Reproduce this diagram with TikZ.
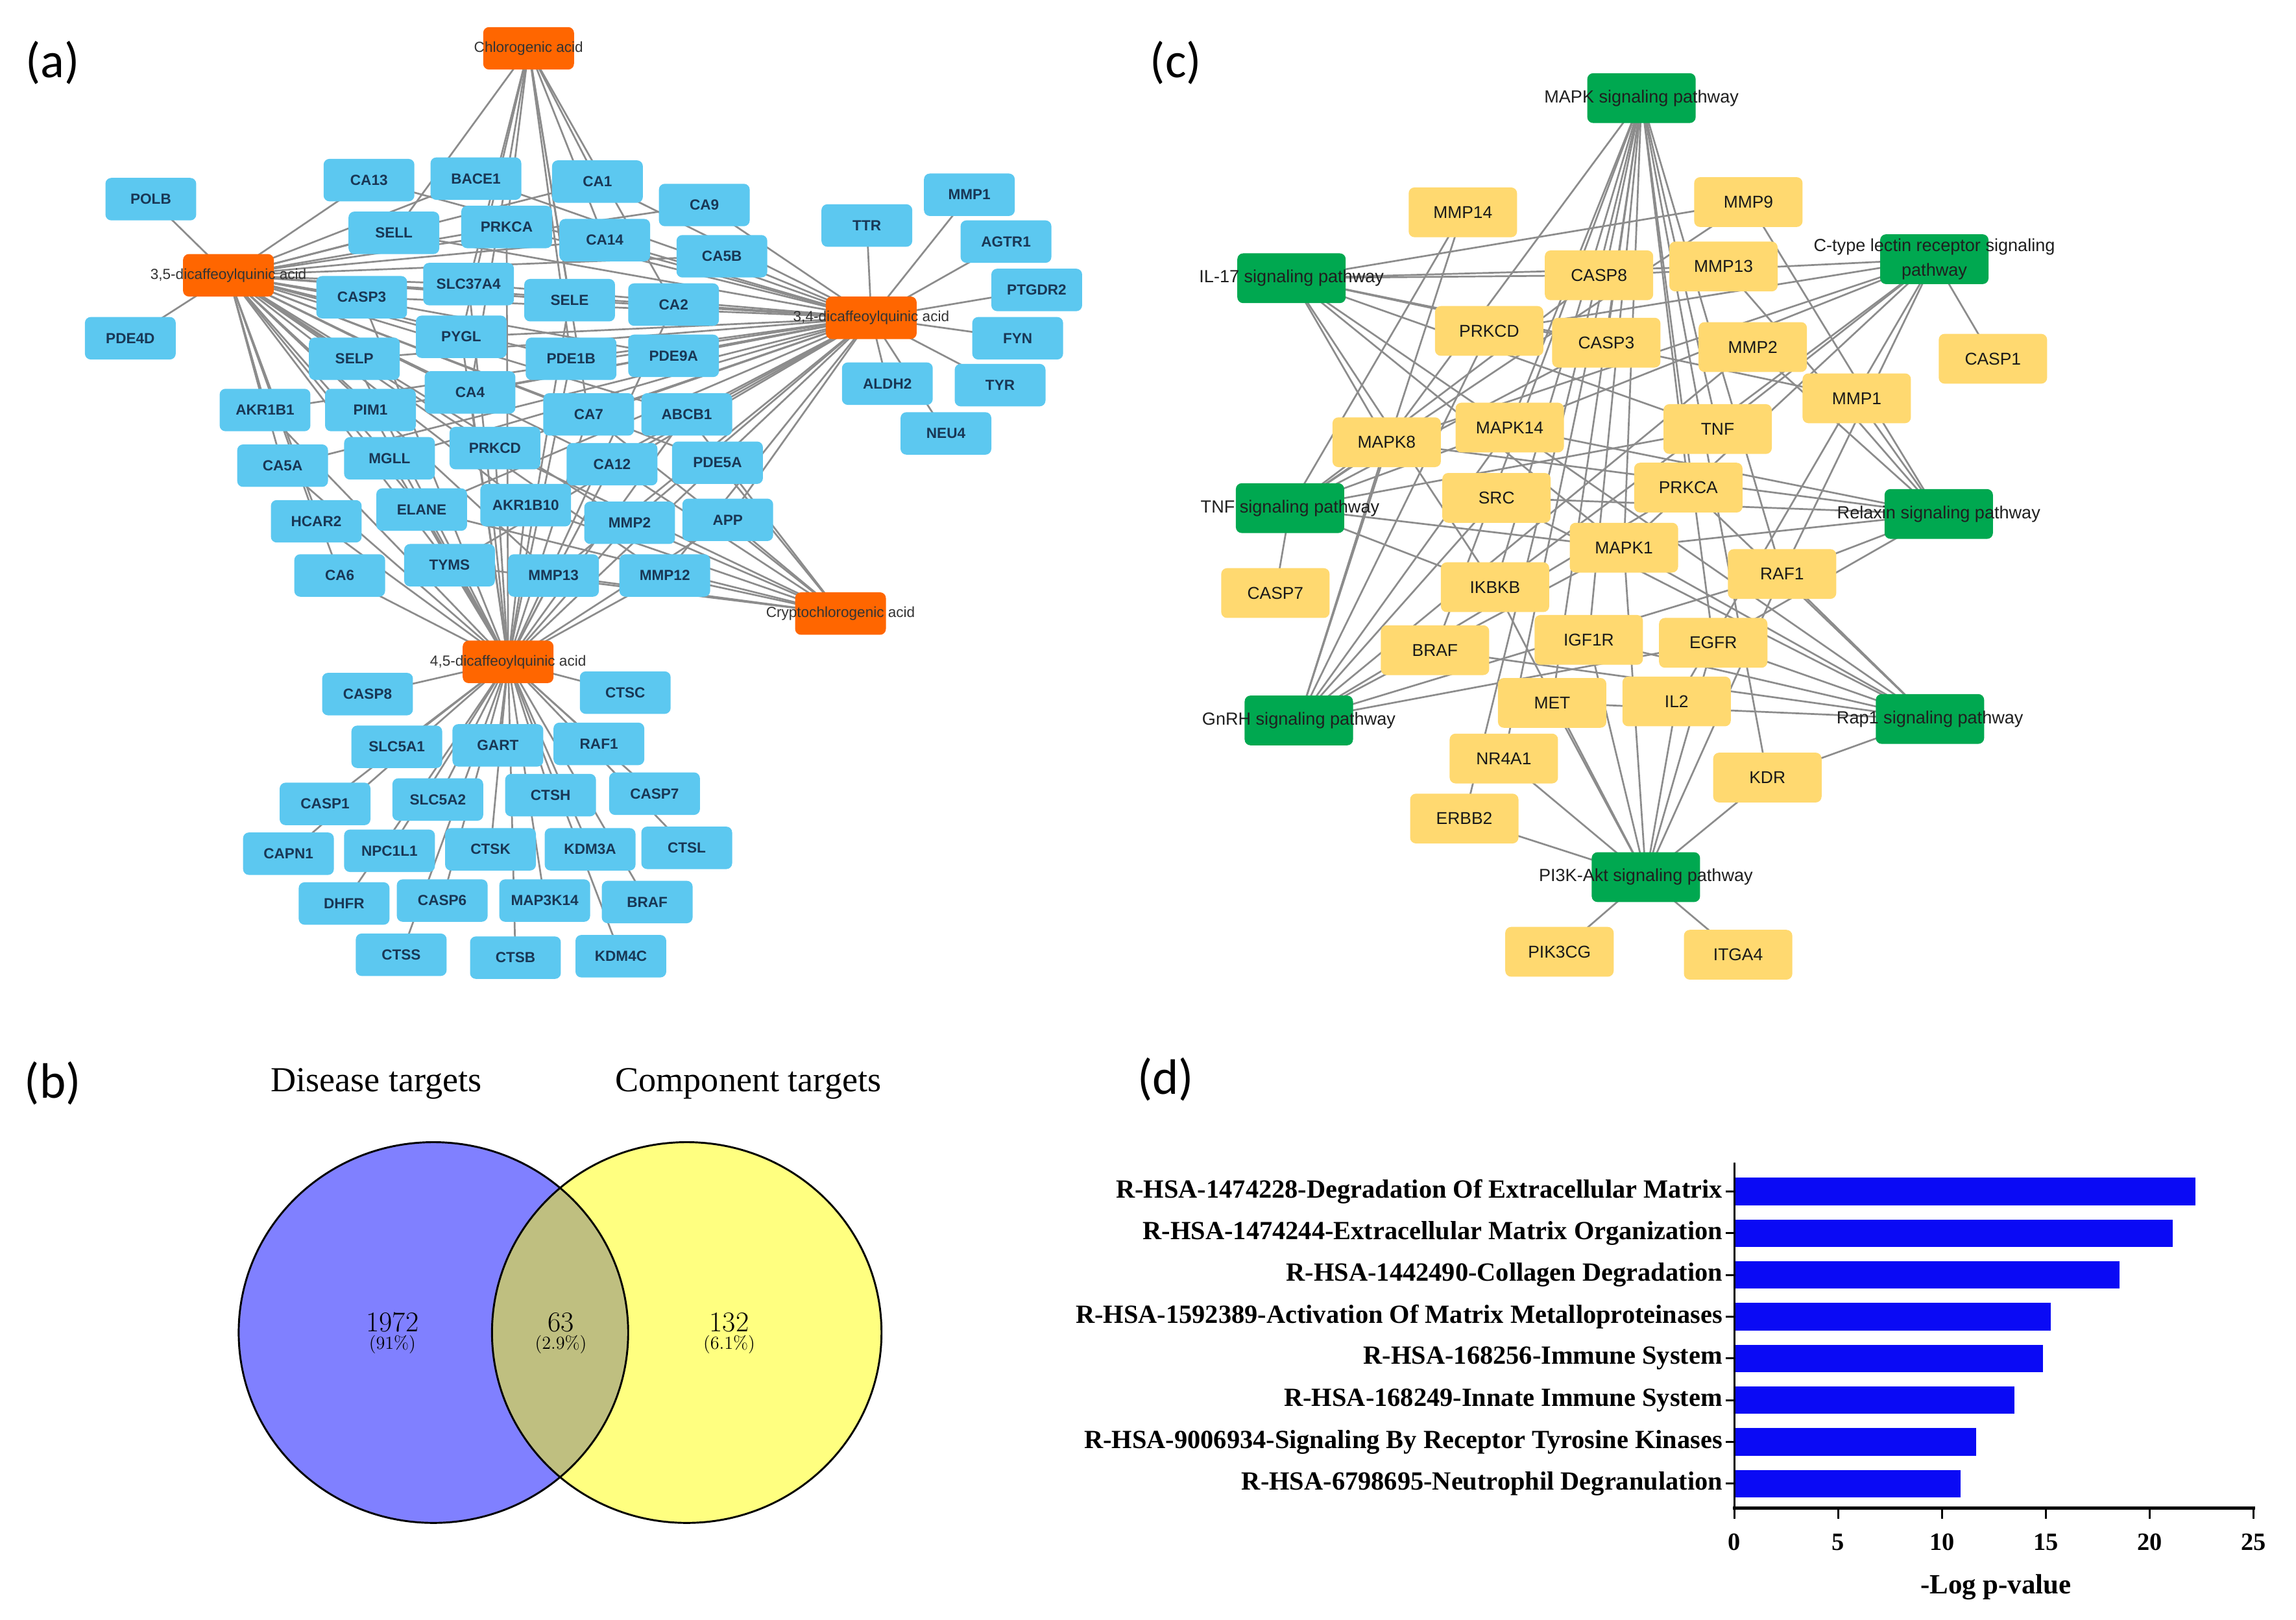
\documentclass[tikz,border=0pt]{standalone}
\usepackage{fontspec}
\newfontfamily\netfont{Liberation Sans}
\newfontfamily\serifT{Liberation Serif}
\newfontfamily\panelfont{Carlito}
\definecolor{nodeblue}{RGB}{92,200,240}
\definecolor{bluetext}{RGB}{25,55,85}
\definecolor{hubor}{RGB}{255,102,0}
\definecolor{nodeyel}{RGB}{255,217,112}
\definecolor{hubgreen}{RGB}{0,168,80}
\definecolor{edgegray}{RGB}{140,140,140}
\definecolor{venblue}{RGB}{128,128,255}
\definecolor{venyel}{RGB}{255,255,128}
\definecolor{venmix}{RGB}{191,191,128}
\definecolor{barblue}{RGB}{10,10,245}
\pgfdeclarelayer{edgelayer}
\pgfsetlayers{edgelayer,main}
\begin{document}
\begin{tikzpicture}[x=1pt,y=-1pt,
  bnode/.style={rectangle, rounded corners=4pt, fill=nodeblue, minimum width=62pt, minimum height=29pt, inner sep=1pt, font=\netfont\bfseries\fontsize{10}{12}\selectfont, text=bluetext},
  ohub/.style={rectangle, rounded corners=4pt, fill=hubor, minimum width=62pt, minimum height=29pt, inner sep=0pt},
  hubtext/.style={font=\netfont\fontsize{10}{12}\selectfont, text=black!80, inner sep=0pt},
  ynode/.style={rectangle, rounded corners=4pt, fill=nodeyel, minimum width=74pt, minimum height=34pt, inner sep=1pt, font=\netfont\fontsize{11.7}{14}\selectfont, text=black!90},
  ghub/.style={rectangle, rounded corners=4pt, fill=hubgreen, minimum width=74pt, minimum height=34pt, inner sep=0pt},
  gtext/.style={font=\netfont\fontsize{12}{17}\selectfont, text=black!88, align=center, inner sep=0pt},
  netline/.style={draw=edgegray, line width=1.2pt},
  paneltag/.style={font=\panelfont\fontsize{34}{40}\selectfont, inner sep=0pt},
  barlab/.style={font=\serifT\bfseries\fontsize{17.9}{20}\selectfont, anchor=east, inner sep=0pt},
  ticklab/.style={font=\serifT\bfseries\fontsize{17}{20}\selectfont, inner sep=0pt}
]
\begin{pgfonlayer}{edgelayer}
\fill[white] (0,0) rectangle (1568,1106);
\end{pgfonlayer}
\useasboundingbox (0,0) rectangle (1568,1106);

% ---------------- panel labels
\node[paneltag] (tagA) at (36,43) {(a)};
\node[paneltag] (tagC) at (803,43) {(c)};
\node[paneltag] (tagB) at (36,740) {(b)};
\node[paneltag] (tagD) at (796,737) {(d)};

% ---------------- (a) network
\foreach \n/\x/\y in {POLB/103/136, PDE4D/89/231, CA13/252/123, BACE1/325/122, CA1/408/124, CA9/481/140,
  SELL/269/159, PRKCA/346/155, CA14/413/164, CA5B/493/175, TTR/592/154, MMP1/662/133, AGTR1/687/165,
  PTGDR2/708/198, FYN/695/231, CASP3/247/203, SLC37A4/320/194, SELE/389/205, CA2/460/208,
  SELP/242/245, PYGL/315/230, PDE1B/390/245, PDE9A/460/243, ALDH2/606/262, TYR/683/263, NEU4/646/296,
  AKR1B1/181/280, PIM1/253/280, CA4/321/268, CA7/402/283, ABCB1/469/283, PRKCD/338/306,
  CA5A/193/318, MGLL/266/313, CA12/418/317, PDE5A/490/316, HCAR2/216/356, ELANE/288/348,
  AKR1B10/359/345, MMP2/430/357, APP/497/355, CA6/232/393, TYMS/307/386, MMP13/378/393, MMP12/454/393,
  CASP8/251/474, CTSC/427/473, SLC5A1/271/510, GART/340/509, RAF1/409/508, CASP1/222/549,
  SLC5A2/299/546, CTSH/376/543, CASP7/447/542, CAPN1/197/583, NPC1L1/266/581, CTSK/335/580,
  KDM3A/403/580, CTSL/469/579, DHFR/235/617, CASP6/302/615, MAP3K14/372/615, BRAF/442/616,
  CTSS/274/652, CTSB/352/654, KDM4C/424/653}
  {\node[bnode] (a-\n) at (\x,\y) {\n};}

\node[ohub, label={[hubtext]center:Chlorogenic acid}] (achl) at (361,33) {};
\node[ohub, label={[hubtext]center:3,5-dicaffeoylquinic acid}] (a35) at (156,188) {};
\node[ohub, label={[hubtext]center:3,4-dicaffeoylquinic acid}] (a34) at (595,217) {};
\node[ohub, label={[hubtext]center:Cryptochlorogenic acid}] (acry) at (574,419) {};
\node[ohub, label={[hubtext]center:4,5-dicaffeoylquinic acid}] (a45) at (347,452) {};

\begin{pgfonlayer}{edgelayer}
\foreach \t in {SELL,PRKCA,CA1,CA14,SELE,PYGL,CA4,PDE1B,CA7,CA2,SLC37A4}
  \draw[netline] (achl.center) -- (a-\t.center);
\foreach \t in {POLB,PDE4D,CA13,BACE1,SELL,PRKCA,CA1,CA9,CA14,CA5B,CASP3,SLC37A4,SELE,CA2,SELP,PYGL,PDE1B,PDE9A,AKR1B1,PIM1,CA4,CA7,ABCB1,CA5A,MGLL,PRKCD,CA12,PDE5A,HCAR2,ELANE,AKR1B10,MMP2,CA6,TYMS,MMP13,MMP12}
  \draw[netline] (a35.center) -- (a-\t.center);
\foreach \t in {TTR,MMP1,AGTR1,PTGDR2,FYN,ALDH2,TYR,NEU4,CA13,BACE1,CA1,CA9,SELL,PRKCA,CA14,CA5B,CASP3,SLC37A4,SELE,CA2,SELP,PYGL,PDE1B,PDE9A,AKR1B1,PIM1,CA4,CA7,ABCB1,CA5A,MGLL,PRKCD,CA12,PDE5A,ELANE,AKR1B10,MMP2,APP,TYMS,MMP13,MMP12}
  \draw[netline] (a34.center) -- (a-\t.center);
\foreach \t in {CASP8,CTSC,SLC5A1,GART,RAF1,CASP1,SLC5A2,CTSH,CASP7,CAPN1,NPC1L1,CTSK,KDM3A,CTSL,DHFR,CASP6,MAP3K14,BRAF,CTSS,CTSB,KDM4C,SELP,PYGL,PDE1B,AKR1B1,PIM1,CA4,CA7,ABCB1,MGLL,PRKCD,CA12,PDE5A,HCAR2,ELANE,AKR1B10,MMP2,APP,TYMS,MMP13,MMP12,CA6,CASP3,SLC37A4,SELE,PRKCA,CA2,CA5A}
  \draw[netline] (a45.center) -- (a-\t.center);
\foreach \t in {APP,MMP12,MMP2,MMP13,AKR1B10,CA12,PDE5A,ABCB1,PRKCD,ELANE,TYMS,CA7}
  \draw[netline] (acry.center) -- (a-\t.center);
\end{pgfonlayer}

% ---------------- (c) network
\foreach \n/\x/\y in {MMP14/999/145, MMP9/1194/138, CASP8/1092/188, MMP13/1177/182, PRKCD/1017/226,
  CASP3/1097/234, MMP2/1197/237, CASP1/1361/245, MMP1/1268/272, MAPK8/947/302, MAPK14/1031/292,
  TNF/1173/293, SRC/1022/340, PRKCA/1153/333, MAPK1/1109/374, CASP7/871/405, IKBKB/1021/401,
  RAF1/1217/392, BRAF/980/444, IGF1R/1085/437, EGFR/1170/439, MET/1060/480, IL2/1145/479,
  NR4A1/1027/518, KDR/1207/531, ERBB2/1000/559, PIK3CG/1065/650, ITGA4/1187/652}
  {\node[ynode] (c-\n) at (\x,\y) {\n};}

\node[ghub, label={[gtext]center:MAPK signaling pathway}] (cmapk) at (1121,67) {};
\node[ghub, label={[gtext]center:IL-17 signaling pathway}] (cil) at (882,190) {};
\node[ghub, label={[gtext]center:{C-type lectin receptor signaling\\pathway}}] (cct) at (1321,177) {};
\node[ghub, label={[gtext]center:TNF signaling pathway}] (ctnf) at (881,347) {};
\node[ghub, label={[gtext]center:Relaxin signaling pathway}] (crel) at (1324,351) {};
\node[ghub, label={[gtext]center:GnRH signaling pathway}] (cgn) at (887,492) {};
\node[ghub, label={[gtext]center:Rap1 signaling pathway}] (crap) at (1318,491) {};
\node[ghub, label={[gtext]center:PI3K-Akt signaling pathway}] (cpi) at (1124,599) {};

\begin{pgfonlayer}{edgelayer}
\foreach \t in {CASP3,MAPK1,MAPK8,MAPK14,TNF,RAF1,BRAF,EGFR,IGF1R,MET,ERBB2,PRKCA,KDR,IKBKB,NR4A1}
  \draw[netline] (cmapk.center) -- (c-\t.center);
\foreach \t in {MMP9,MMP13,MMP1,CASP8,CASP3,MAPK1,MAPK8,MAPK14,TNF,IKBKB}
  \draw[netline] (cil.center) -- (c-\t.center);
\foreach \t in {CASP8,CASP1,MAPK1,MAPK8,MAPK14,RAF1,PRKCD,IKBKB,IL2,TNF}
  \draw[netline] (cct.center) -- (c-\t.center);
\foreach \t in {CASP3,CASP7,CASP8,MAPK1,MAPK8,MAPK14,TNF,IKBKB,MMP9,MMP14}
  \draw[netline] (ctnf.center) -- (c-\t.center);
\foreach \t in {MMP1,MMP2,MMP9,MMP13,MAPK1,MAPK8,MAPK14,SRC,EGFR,RAF1}
  \draw[netline] (crel.center) -- (c-\t.center);
\foreach \t in {MAPK1,MAPK8,MAPK14,SRC,EGFR,PRKCD,PRKCA,RAF1,MMP2,MMP14}
  \draw[netline] (cgn.center) -- (c-\t.center);
\foreach \t in {MAPK1,MAPK14,SRC,EGFR,IGF1R,MET,KDR,RAF1,BRAF,PRKCA}
  \draw[netline] (crap.center) -- (c-\t.center);
\foreach \t in {EGFR,IGF1R,MET,KDR,ERBB2,IL2,NR4A1,MAPK1,PIK3CG,ITGA4,RAF1,IKBKB}
  \draw[netline] (cpi.center) -- (c-\t.center);
\end{pgfonlayer}

% ---------------- (b) Venn
\coordinate (vL) at (296,910);
\coordinate (vR) at (469,910);
\fill[venblue] (vL) ellipse (133pt and 130pt);
\fill[venyel] (vR) ellipse (133pt and 130pt);
\begin{scope}
  \clip (vL) ellipse (133pt and 130pt);
  \fill[venmix] (vR) ellipse (133pt and 130pt);
\end{scope}
\draw[line width=1.3pt] (vL) ellipse (133pt and 130pt);
\draw[line width=1.3pt] (vR) ellipse (133pt and 130pt);
\node[font=\serifT\fontsize{24}{28}\selectfont] (vtl) at (257,740) {Disease targets};
\node[font=\serifT\fontsize{24}{28}\selectfont] (vtr) at (511,740) {Component targets};
\node[font=\fontsize{19.5}{22}\selectfont, inner sep=0pt] (n1) at (268,903) {1972};
\node[font=\fontsize{12.5}{14}\selectfont, inner sep=0pt] (p1) at (268,918) {(91\%)};
\node[font=\fontsize{19.5}{22}\selectfont, inner sep=0pt] (n2) at (383,903) {63};
\node[font=\fontsize{12.5}{14}\selectfont, inner sep=0pt] (p2) at (383,918) {(2.9\%)};
\node[font=\fontsize{19.5}{22}\selectfont, inner sep=0pt] (n3) at (498,903) {132};
\node[font=\fontsize{12.5}{14}\selectfont, inner sep=0pt] (p3) at (498,918) {(6.1\%)};

% ---------------- (d) bar chart
\foreach \v/\lab [count=\i from 0] in {22.2/R-HSA-1474228-Degradation Of Extracellular Matrix,
  21.1/R-HSA-1474244-Extracellular Matrix Organization,
  18.55/R-HSA-1442490-Collagen Degradation,
  15.25/R-HSA-1592389-Activation Of Matrix Metalloproteinases,
  14.85/R-HSA-168256-Immune System,
  13.5/R-HSA-168249-Innate Immune System,
  11.65/R-HSA-9006934-Signaling By Receptor Tyrosine Kinases,
  10.9/R-HSA-6798695-Neutrophil Degranulation}
{
  \fill[barblue] (1184.4,{804.3+28.5*\i}) rectangle ({1184.4+14.18*\v},{823+28.5*\i});
  \draw[line width=1.4pt] (1178.5,{813.7+28.5*\i}) -- (1184.4,{813.7+28.5*\i});
  \node[barlab] (bl\i) at (1176.5,{813.7+28.5*\i}) {\lab};
}
\draw[line width=1.2pt] (1184.4,794) -- (1184.4,1030);
\draw[line width=2.4pt] (1183.2,1030) -- (1540,1030);
\foreach \k [count=\j from 0] in {0,5,10,15,20,25}{
  \draw[line width=1.4pt] ({1184.4+70.9*\j},1030) -- ({1184.4+70.9*\j},1037);
  \node[ticklab] (tk\j) at ({1184.4+70.9*\j},1053) {\k};
}
\node[font=\serifT\bfseries\fontsize{19}{22}\selectfont, inner sep=0pt] (xt) at (1363,1084) {-Log p-value};
\end{tikzpicture}
\end{document}
